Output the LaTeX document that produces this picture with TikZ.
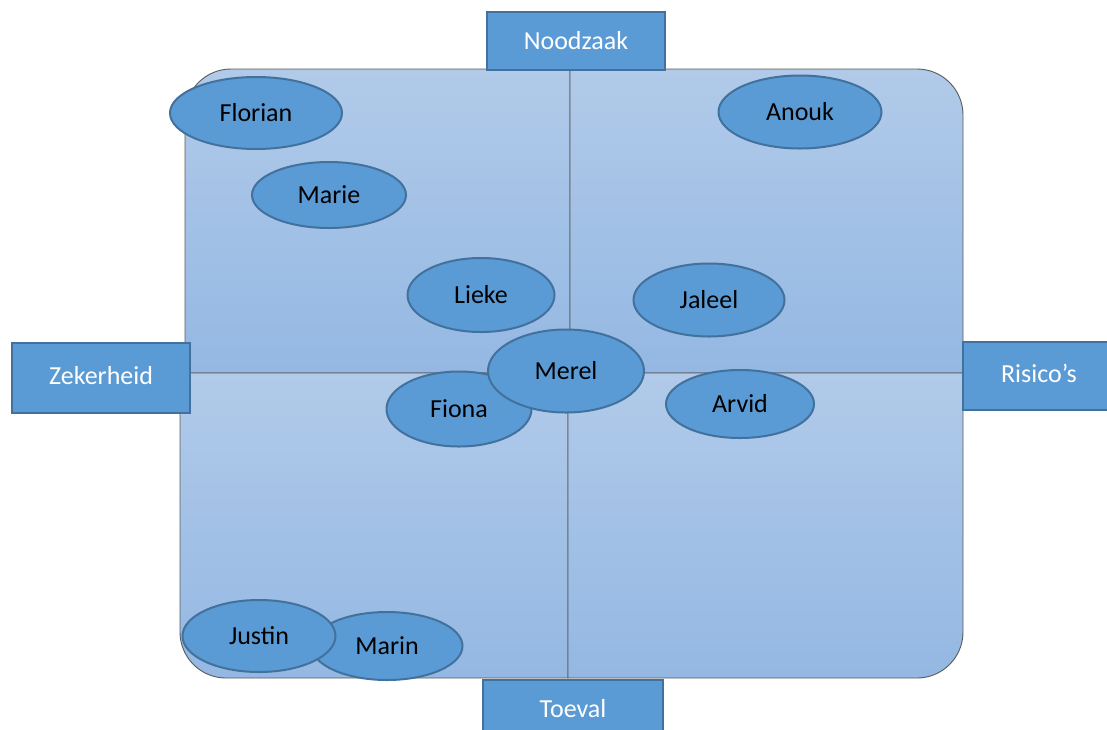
\documentclass[tikz,border=0pt]{standalone}
\usepackage{fontspec}
\setmainfont{Carlito}
\usetikzlibrary{shapes.geometric}
\definecolor{vakblauw}{HTML}{5B9BD5}
\definecolor{randblauw}{HTML}{41719C}
\definecolor{kwadrantboven}{HTML}{B1CAE9}
\definecolor{kwadrantonder}{HTML}{94B8E3}
\definecolor{kwadrantrand}{HTML}{5A5A5A}

\begin{document}
\begin{tikzpicture}[x=1pt,y=-1pt,
		kwadrant/.style={draw=kwadrantrand, line width=0.9pt, top color=kwadrantboven, bottom color=kwadrantonder},
		asvak/.style={rectangle, draw=randblauw, fill=vakblauw, line width=2pt, inner sep=0pt, text=white, font=\fontsize{26}{30}\selectfont},
		persoon/.style={ellipse, draw=randblauw, fill=vakblauw, line width=2pt, inner sep=0pt, text=black, font=\fontsize{26}{30}\selectfont}]
			\useasboundingbox (0,0) rectangle (1107,729);
			\clip (0,0) rectangle (1107,729);

			% de vier kwadranten
			\path[kwadrant] (185,373) -- (185,115) .. controls (185,89.6) and (205.6,69) .. (231,69) -- (570,69) -- (570,373) -- cycle;
			\path[kwadrant] (570,69) -- (917,69) .. controls (942.4,69) and (963,89.6) .. (963,115) -- (963,373) -- (570,373) -- cycle;
			\path[kwadrant] (180,373) -- (568,373) -- (568,678) -- (226,678) .. controls (200.6,678) and (180,657.4) .. (180,632) -- cycle;
			\path[kwadrant] (568,373) -- (963,373) -- (963,632) .. controls (963,657.4) and (942.4,678) .. (917,678) -- (568,678) -- cycle;

			\node[asvak, minimum width=178, minimum height=58] (noodzaak) at (576,41) {Noodzaak};
			\node[asvak, minimum width=178, minimum height=70] (zekerheid) at (101,378) {\raisebox{5pt}{Zekerheid}};
			\node[asvak, minimum width=152, minimum height=68] (risicos) at (1039,376) {\raisebox{5pt}{Risico’s}};
			\node[asvak, minimum width=180, minimum height=58] (toeval) at (573,709) {Toeval};

			\node[persoon, minimum width=172, minimum height=72] (florian) at (256,113) {Florian};
			\node[persoon, minimum width=154, minimum height=66] (marie) at (329,195) {Marie};
			\node[persoon, minimum width=147, minimum height=74] (lieke) at (481,295) {Lieke};
			\node[persoon, minimum width=163, minimum height=73] (anouk) at (800,112) {Anouk};
			\node[persoon, minimum width=151, minimum height=73] (jaleel) at (709,300) {Jaleel};
			\node[persoon, minimum width=145, minimum height=75] (fiona) at (459,409) {Fiona};
			\node[persoon, minimum width=156, minimum height=83] (merel) at (566,371) {Merel};
			\node[persoon, minimum width=148, minimum height=68] (arvid) at (740,404) {Arvid};
			\node[persoon, minimum width=151, minimum height=68] (marin) at (387,646) {\raisebox{-3pt}{Marin}};
			\node[persoon, minimum width=153, minimum height=72] (justin) at (259,636) {Justin};
		\end{tikzpicture}
\end{document}
